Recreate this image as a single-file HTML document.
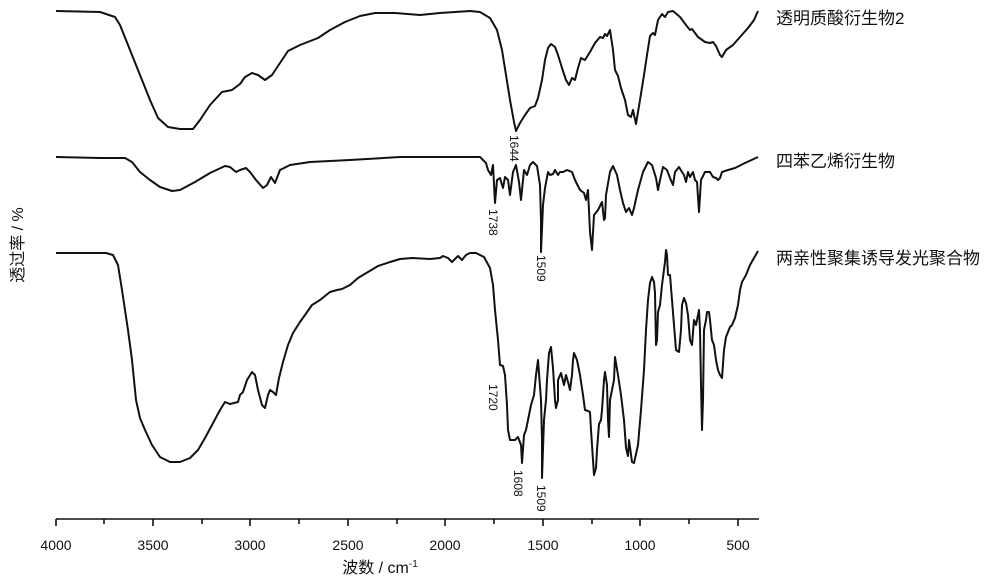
<!DOCTYPE html>
<html><head><meta charset="utf-8"><style>
html,body{margin:0;padding:0;background:#fff;}
svg{display:block;}
text{font-family:"Liberation Sans","Noto Sans CJK SC",sans-serif;fill:#111;}
</style></head><body>
<svg width="1000" height="586" viewBox="0 0 1000 586" xmlns="http://www.w3.org/2000/svg">
<g fill="none" stroke="#111" stroke-width="2" stroke-linejoin="round">
<polyline points="56,11 100,12 115,17 120,25 130,50 140,75 150,100 158,118 168,127 180,129 193,129 200,120 210,105 222,92 232,90 240,84 245,77 252,73 258,75 265,80 272,75 280,63 288,51 300,45 318,38 330,30 345,22 360,16 375,13 395,13 420,15 440,13 470,11 480,12 490,18 497,30 502,50 506,75 510,100 514,122 516,131 520,123 525,115 530,108 535,106 538,98 542,80 545,60 548,48 551,44 555,47 558,55 562,68 566,80 569,85 572,78 575,80 578,68 581,58 585,60 590,52 595,43 600,37 603,38 605,34 607,36 610,30 613,50 615,70 618,76 621,88 625,100 628,115 631,117 633,110 636,124 640,100 644,75 647,55 650,36 653,33 655,35 658,20 662,14 665,17 668,12 673,11 680,17 686,25 690,30 692,29 698,37 705,42 710,43 713,42 716,46 720,55 722,57 726,50 733,45 740,37 748,28 754,20 758,11"/>
<polyline points="56,157 100,158 125,158 132,162 140,172 150,180 160,187 172,191 180,190 195,182 210,173 225,166 230,167 236,172 240,170 246,168 250,172 256,180 263,188 267,185 271,177 275,183 280,170 290,165 310,162 350,160 400,157 440,157 480,157 486,163 488,170 491,175 493,165 495,203 497,180 500,178 503,188 505,177 508,180 510,195 513,172 516,165 519,182 521,200 524,170 527,175 530,165 533,162 537,166 540,185 541,220 541,252 543,205 545,188 548,172 550,175 553,174 555,170 558,175 560,172 563,172 567,170 572,172 575,180 580,190 584,193 586,200 588,190 590,232 592,250 594,215 598,210 602,202 604,220 605,218 606,195 610,172 613,166 617,175 620,190 623,203 626,212 629,208 632,215 634,208 638,190 643,172 648,162 652,165 656,178 658,190 660,180 663,167 667,170 670,178 673,185 675,172 679,167 682,172 684,175 686,182 688,172 690,177 693,172 695,180 697,182 699,212 701,180 705,172 710,172 713,177 716,178 718,180 720,178 722,172 728,170 735,168 745,163 758,157"/>
<polyline points="56,253 106,253 113,255 118,265 122,290 128,330 132,360 136,400 140,418 145,430 152,445 160,457 170,462 180,462 190,458 198,450 205,438 212,425 220,410 225,402 230,404 238,402 240,395 243,392 247,380 252,372 255,375 258,390 262,405 265,408 268,395 270,390 273,392 276,395 279,378 283,362 288,345 293,333 300,322 305,315 312,305 320,300 330,292 337,290 342,289 350,285 358,278 368,272 378,266 390,262 400,259 412,258 430,259 440,258 443,256 448,258 452,262 458,256 462,260 466,255 470,253 476,253 484,257 490,268 493,285 495,310 498,340 500,365 503,366 505,375 507,405 508,430 510,440 515,440 518,437 521,445 522,463 524,435 526,430 528,420 531,405 534,395 536,375 538,360 541,400 542,440 542,478 544,420 546,400 547,380 549,353 551,347 553,368 555,400 556,408 558,400 558,380 561,373 564,385 566,375 568,382 570,390 572,375 573,360 574,353 577,360 580,375 583,395 585,410 588,411 590,412 591,430 593,460 594,475 596,468 597,450 599,424 601,420 602,410 604,380 605,372 607,385 608,420 609,437 610,400 612,390 614,380 615,357 618,375 621,395 624,420 626,448 628,456 629,440 630,447 632,462 634,463 638,445 641,410 644,370 646,330 648,300 650,283 652,277 654,282 655,293 656,345 657,340 658,312 660,305 662,285 665,262 666,250 667,255 668,275 670,275 672,300 676,350 679,352 681,330 682,305 684,298 686,303 688,315 690,340 692,345 694,320 696,325 698,315 699,310 700,330 701,385 702,430 703,400 704,330 706,320 707,312 709,312 710,320 712,340 714,345 716,360 718,370 720,375 722,378 724,350 726,337 728,332 730,327 732,325 735,318 738,305 740,290 742,282 746,275 750,265 754,258 758,251"/>
</g>
<g stroke="#111" stroke-width="1.6">
<line x1="56" y1="519" x2="759" y2="519"/>
<line x1="56" y1="519" x2="56" y2="526"/><line x1="153" y1="519" x2="153" y2="526"/><line x1="250" y1="519" x2="250" y2="526"/><line x1="348" y1="519" x2="348" y2="526"/><line x1="445" y1="519" x2="445" y2="526"/><line x1="543" y1="519" x2="543" y2="526"/><line x1="640" y1="519" x2="640" y2="526"/><line x1="738" y1="519" x2="738" y2="526"/>
<line x1="104" y1="519" x2="104" y2="524"/><line x1="202" y1="519" x2="202" y2="524"/><line x1="299" y1="519" x2="299" y2="524"/><line x1="397" y1="519" x2="397" y2="524"/><line x1="494" y1="519" x2="494" y2="524"/><line x1="592" y1="519" x2="592" y2="524"/><line x1="689" y1="519" x2="689" y2="524"/>
</g>
<g font-size="14" text-anchor="middle">
<text x="56" y="550">4000</text><text x="153" y="550">3500</text><text x="250" y="550">3000</text><text x="348" y="550">2500</text><text x="445" y="550">2000</text><text x="543" y="550">1500</text><text x="640" y="550">1000</text><text x="738" y="550">500</text>
</g>
<text x="380" y="573" font-size="16" text-anchor="middle">波数 / cm<tspan font-size="10" dy="-6">-1</tspan></text>
<text transform="translate(23,245) rotate(-90)" font-size="16" text-anchor="middle">透过率 / %</text>
<g font-size="12">
<text transform="translate(510,135) rotate(90)">1644</text>
<text transform="translate(489,209) rotate(90)">1738</text>
<text transform="translate(537,255) rotate(90)">1509</text>
<text transform="translate(489,384) rotate(90)">1720</text>
<text transform="translate(514,470) rotate(90)">1608</text>
<text transform="translate(537,485) rotate(90)">1509</text>
</g>
<g font-size="17">
<text x="776" y="24">透明质酸衍生物2</text>
<text x="776" y="167">四苯乙烯衍生物</text>
<text x="776" y="264">两亲性聚集诱导发光聚合物</text>
</g>
</svg>
</body></html>
